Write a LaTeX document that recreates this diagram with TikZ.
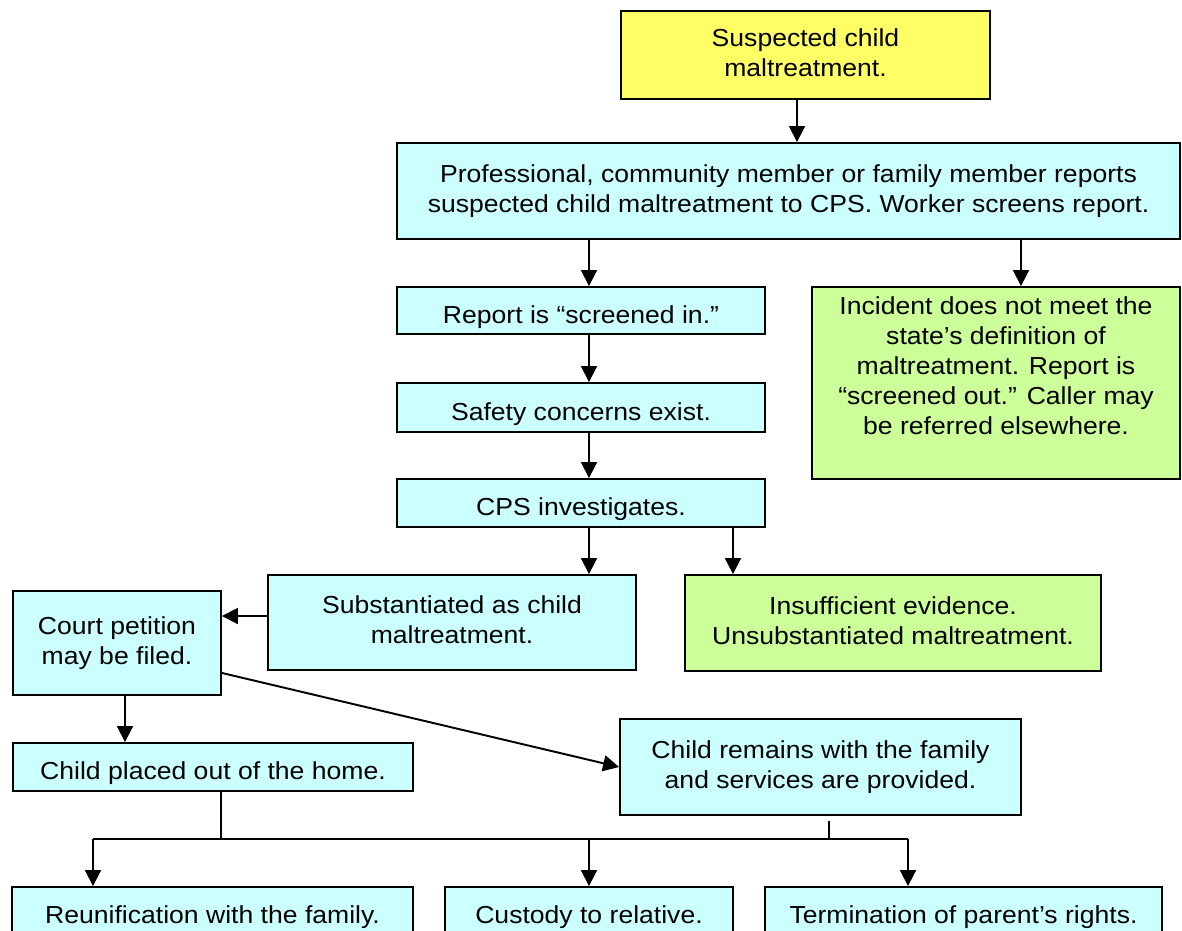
\documentclass[tikz,border=0pt]{standalone}
\usepackage{xcolor}
\usepackage{fontspec}
\setmainfont{Liberation Sans}[FakeStretch=1.08]
\usetikzlibrary{arrows.meta}
\definecolor{boxyellow}{HTML}{FFFF66}
\definecolor{boxcyan}{HTML}{CCFFFF}
\definecolor{boxgreen}{HTML}{CCFF99}

\begin{document}
\begin{tikzpicture}[
  x=0.02cm, y=-0.02cm,
  every node/.style={draw, line width=1.1pt, inner sep=2pt, align=center, text depth=0.1cm, font=\fontsize{14}{17}\selectfont},
  alertbox/.style={fill=boxyellow},
  stepbox/.style={fill=boxcyan},
  exitbox/.style={fill=boxgreen},
  oneline/.style={text height=0.6cm},
  link/.style={line width=1.1pt},
  arr/.style={link, -{Triangle[length=3.2mm,width=3.2mm]}}
]
\useasboundingbox (0,0) rectangle (1182,930);
\clip (0,0) rectangle (1182,930);

\node[alertbox, minimum width=7.38cm, minimum height=1.76cm] (suspect) at (805.5,55) {Suspected child\\maltreatment.};
\node[stepbox, minimum width=15.66cm, minimum height=1.92cm] (report) at (788.5,191) {Professional, community member or family member reports\\suspected child maltreatment to CPS. Worker screens report.};
\node[stepbox, oneline, minimum width=7.36cm, minimum height=0.94cm] (screenin) at (581,310.5) {Report is “screened in.”};
\node[exitbox, text depth=0.7cm, minimum width=7.36cm, minimum height=3.84cm] (screenout) at (996,383) {Incident does not meet the\\state’s definition of\\maltreatment. Report is\\“screened out.” Caller may\\be referred elsewhere.};
\node[stepbox, oneline, minimum width=7.36cm, minimum height=0.98cm] (safety) at (581,407.5) {Safety concerns exist.};
\node[stepbox, oneline, minimum width=7.36cm, minimum height=0.96cm] (investigate) at (581,503) {CPS investigates.};
\node[stepbox, minimum width=7.36cm, minimum height=1.9cm] (substantiated) at (452,622.5) {Substantiated as child\\maltreatment.};
\node[exitbox, minimum width=8.32cm, minimum height=1.92cm] (insufficient) at (893,623) {Insufficient evidence.\\Unsubstantiated maltreatment.};
\node[stepbox, minimum width=4.16cm, minimum height=2.08cm] (court) at (117,643) {Court petition\\may be filed.};
\node[stepbox, oneline, minimum width=8cm, minimum height=0.96cm] (placed) at (213,767) {Child placed out of the home.};
\node[stepbox, minimum width=8.02cm, minimum height=1.92cm] (remains) at (820.5,767) {Child remains with the family\\and services are provided.};
\node[stepbox, oneline, minimum width=8.02cm, minimum height=0.96cm] (reunify) at (212.5,911) {Reunification with the family.};
\node[stepbox, oneline, minimum width=5.76cm, minimum height=0.96cm] (custody) at (589,911) {Custody to relative.};
\node[stepbox, oneline, minimum width=7.94cm, minimum height=0.96cm] (terminate) at (963.5,911) {Termination of parent’s rights.};

\draw[arr] ([xshift=-0.17cm]suspect.south) -- ([xshift=-0.17cm]suspect.south |- report.north);
\draw[arr] ([xshift=0.16cm]screenin.north |- report.south) -- ([xshift=0.16cm]screenin.north);
\draw[arr] ([xshift=0.5cm]screenout.north |- report.south) -- ([xshift=0.5cm]screenout.north);
\draw[arr] ([xshift=0.16cm]screenin.south) -- ([xshift=0.16cm]safety.north);
\draw[arr] ([xshift=0.16cm]safety.south) -- ([xshift=0.16cm]investigate.north);
\draw[arr] ([xshift=0.16cm]investigate.south) -- ([xshift=0.16cm]investigate.south |- substantiated.north);
\draw[arr] ([xshift=3.04cm]investigate.south) -- ([xshift=3.04cm]investigate.south |- insufficient.north);
\draw[arr] ([yshift=0.13cm]substantiated.west) -- ([yshift=0.13cm]substantiated.west -| court.east);
\draw[arr] ([xshift=0.16cm]court.south) -- ([xshift=0.16cm]court.south |- placed.north);
\draw[arr] ([yshift=0.46cm]court.south east) -- (remains.west);

\coordinate (b1) at (93,839);
\coordinate (b2) at (589,839);
\coordinate (b3) at (908,839);
\draw[link] ([xshift=0.16cm]placed.south) -- ([xshift=0.16cm]placed.south |- b1);
\draw[link] ([xshift=0.17cm,yshift=-0.1cm]remains.south) -- ([xshift=0.17cm]remains.south |- b1);
\draw[link] (b1) -- (b3);
\draw[arr] (b1) -- (reunify.north -| b1);
\draw[arr] (b2) -- (custody.north -| b2);
\draw[arr] (b3) -- (terminate.north -| b3);
\end{tikzpicture}
\end{document}
